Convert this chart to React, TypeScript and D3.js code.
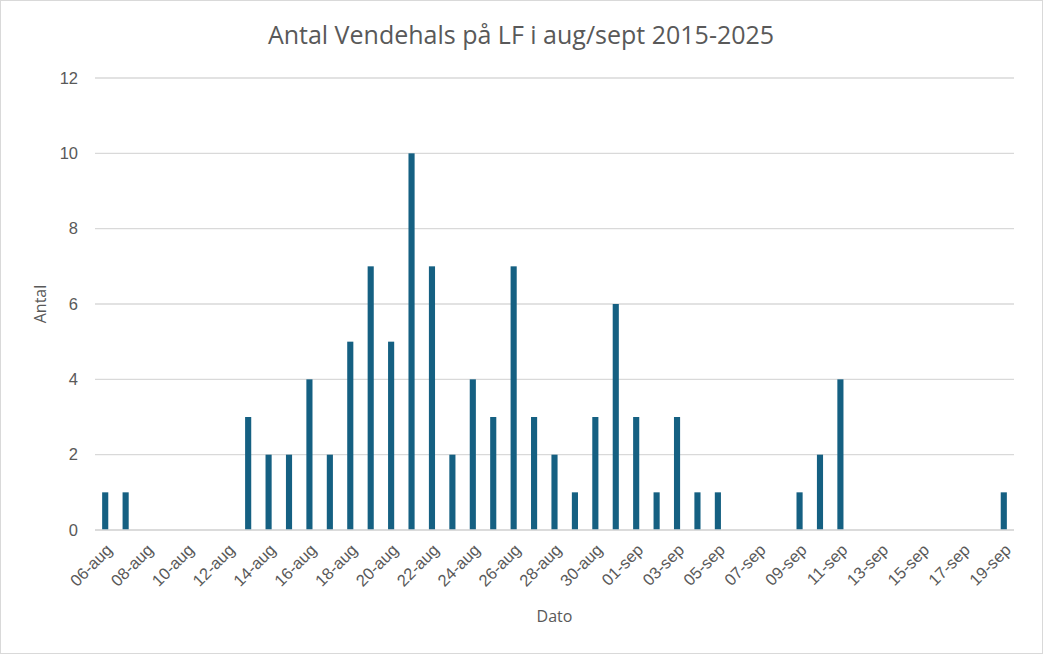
import * as d3 from "d3";
import { useEffect, useRef } from "react";

const days = [
  "06-aug", "07-aug", "08-aug", "09-aug", "10-aug", "11-aug", "12-aug", "13-aug",
  "14-aug", "15-aug", "16-aug", "17-aug", "18-aug", "19-aug", "20-aug", "21-aug",
  "22-aug", "23-aug", "24-aug", "25-aug", "26-aug", "27-aug", "28-aug", "29-aug",
  "30-aug", "31-aug", "01-sep", "02-sep", "03-sep", "04-sep", "05-sep", "06-sep",
  "07-sep", "08-sep", "09-sep", "10-sep", "11-sep", "12-sep", "13-sep", "14-sep",
  "15-sep", "16-sep", "17-sep", "18-sep", "19-sep",
];

const counts = [
  1, 1, 0, 0, 0, 0, 0, 3,
  2, 2, 4, 2, 5, 7, 5, 10,
  7, 2, 4, 3, 7, 3, 2, 1,
  3, 6, 3, 1, 3, 1, 1, 0,
  0, 0, 1, 2, 4, 0, 0, 0,
  0, 0, 0, 0, 1,
];

const yTicks = [0, 2, 4, 6, 8, 10, 12];

const font = "'Open Sans', 'Noto Sans', sans-serif";
const tickFont = "'Liberation Sans', Arial, sans-serif";
const textColor = "#595959";

export default function App() {
  const svgRef = useRef<SVGSVGElement>(null);

  useEffect(() => {
    document.body.style.margin = "0";
    const svg = d3.select(svgRef.current);
    svg.selectAll("*").remove();

    const width = 1043;
    const height = 654;
    const left = 95;
    const right = 1014;
    const top = 78;
    const bottom = 530;

    const x = d3.scaleBand<string>().domain(days).range([left, right]).paddingInner(0.7).paddingOuter(0.35);
    const y = d3.scaleLinear().domain([0, 12]).range([bottom, top]);

    // border
    svg
      .append("rect")
      .attr("x", 0.5)
      .attr("y", 0.5)
      .attr("width", width - 1)
      .attr("height", height - 1)
      .attr("fill", "#fff")
      .attr("stroke", "#d9d9d9");

    // gridlines
    svg
      .append("g")
      .selectAll("line")
      .data(yTicks)
      .join("line")
      .attr("x1", left)
      .attr("x2", right)
      .attr("y1", (d) => y(d))
      .attr("y2", (d) => y(d))
      .attr("stroke", "#d9d9d9")
      .attr("stroke-width", 1.3);

    // y labels
    svg
      .append("g")
      .selectAll("text")
      .data(yTicks)
      .join("text")
      .attr("x", 78)
      .attr("y", (d) => y(d))
      .attr("dy", "0.35em")
      .attr("text-anchor", "end")
      .attr("font-family", tickFont)
      .attr("font-size", 16.5)
      .attr("fill", textColor)
      .text((d) => d);

    // bars
    svg
      .append("g")
      .selectAll("rect")
      .data(days.map((d, i) => ({ day: d, value: counts[i] })))
      .join("rect")
      .attr("x", (d) => x(d.day)!)
      .attr("width", x.bandwidth())
      .attr("y", (d) => y(d.value))
      .attr("height", (d) => bottom - y(d.value))
      .attr("fill", "#156082");

    // baseline on top
    svg
      .append("line")
      .attr("x1", left)
      .attr("x2", right)
      .attr("y1", bottom)
      .attr("y2", bottom)
      .attr("stroke", "#d9d9d9")
      .attr("stroke-width", 1.3);

    // x labels, every other day
    const centre = (d: string) => x(d)! + x.bandwidth() / 2;
    svg
      .append("g")
      .selectAll("text")
      .data(days.filter((_, i) => i % 2 === 0))
      .join("text")
      .attr("transform", (d) => `translate(${centre(d) + 4},${bottom + 17}) rotate(-45)`)
      .attr("text-anchor", "end")
      .attr("dy", "0.35em")
      .attr("font-family", tickFont)
      .attr("font-size", 16.5)
      .attr("fill", textColor)
      .text((d) => d);

    // title
    svg
      .append("text")
      .attr("x", 521)
      .attr("y", 44)
      .attr("text-anchor", "middle")
      .attr("font-family", font)
      .attr("font-size", 25)
      .attr("fill", textColor)
      .text("Antal Vendehals på LF i aug/sept 2015-2025");

    // axis titles
    svg
      .append("text")
      .attr("transform", `translate(46,${(top + bottom) / 2}) rotate(-90)`)
      .attr("text-anchor", "middle")
      .attr("font-family", font)
      .attr("font-size", 16)
      .attr("fill", textColor)
      .text("Antal");

    svg
      .append("text")
      .attr("x", (left + right) / 2)
      .attr("y", 622)
      .attr("text-anchor", "middle")
      .attr("font-family", font)
      .attr("font-size", 16)
      .attr("fill", textColor)
      .text("Dato");
  }, []);

  return <svg ref={svgRef} width={1043} height={654} style={{ display: "block" }} />;
}
